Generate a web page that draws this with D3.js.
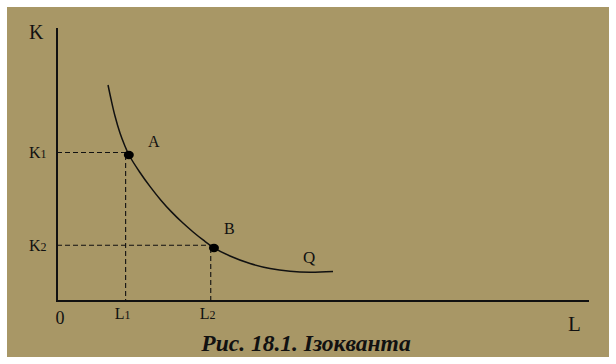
<!DOCTYPE html>
<html>
<head>
<meta charset="utf-8">
<script src="https://cdn.jsdelivr.net/npm/d3@7"></script>
<style>
  html, body { margin: 0; padding: 0; background: #ffffff; }
  svg { display: block; }
  text { font-family: "Liberation Serif", "Times New Roman", serif; fill: #111; }
</style>
</head>
<body>
<svg id="chart" width="616" height="364"></svg>
<script>
// Isoquant Q: labour L vs capital K
const curveL = [0.959, 1.015, 1.090, 1.184, 1.269, 1.353, 1.553, 1.754, 1.953, 2.152, 2.352, 2.553, 2.752, 2.951, 3.252, 3.628, 4.004, 4.380, 4.756, 5.188];
const curveK = [7.912, 7.399, 6.777, 6.154, 5.714, 5.348, 4.725, 4.179, 3.692, 3.264, 2.883, 2.538, 2.227, 1.949, 1.648, 1.374, 1.190, 1.088, 1.051, 1.081];
// Marked points
const pointNames = ["A", "B"];
const pointL = [1.35, 2.95];
const pointK = [5.35, 1.94];
// Guide (dashed) levels and tick labels
const guideL = [1.29, 2.89];
const guideK = [5.44, 2.04];
const tickLNames = ["L", "L"];
const tickLSubs = ["1", "2"];
const tickKNames = ["K", "K"];
const tickKSubs = ["1", "2"];
const axisNames = { x: "L", y: "K", origin: "0", curve: "Q" };
const caption = "Рис. 18.1. Ізокванта";

const svg = d3.select("#chart");
svg.append("rect").attr("x", 7).attr("y", 7).attr("width", 602).attr("height", 350).attr("fill", "#a89766");

const x = d3.scaleLinear().domain([0, 10]).range([57, 589]);
const y = d3.scaleLinear().domain([0, 10]).range([301, 28]);

// axes
svg.append("line").attr("x1", x(0)).attr("x2", x(0)).attr("y1", y(10)).attr("y2", y(0))
  .attr("stroke", "#111").attr("stroke-width", 2);
svg.append("line").attr("x1", x(0) - 1).attr("x2", x(10)).attr("y1", y(0)).attr("y2", y(0))
  .attr("stroke", "#111").attr("stroke-width", 2);

// dashed guides
guideK.forEach((k, i) => {
  svg.append("line").attr("x1", x(0)).attr("x2", x(pointL[i])).attr("y1", y(k)).attr("y2", y(k))
    .attr("stroke", "#111").attr("stroke-width", 1.1).attr("stroke-dasharray", "5,3");
});
guideL.forEach((l, i) => {
  svg.append("line").attr("x1", x(l)).attr("x2", x(l)).attr("y1", y(pointK[i])).attr("y2", y(0))
    .attr("stroke", "#111").attr("stroke-width", 1.1).attr("stroke-dasharray", "5,3");
});

// curve
const pts = curveL.map((l, i) => [l, curveK[i]]);
svg.append("path").datum(pts)
  .attr("d", d3.line().x(d => x(d[0])).y(d => y(d[1])).curve(d3.curveCatmullRom.alpha(0.5)))
  .attr("fill", "none").attr("stroke", "#111").attr("stroke-width", 1.5);

// points
pointL.forEach((l, i) => {
  svg.append("ellipse").attr("cx", x(l)).attr("cy", y(pointK[i])).attr("rx", 5).attr("ry", 4.2).attr("fill", "#000");
});

// point labels
const labelPos = [[148, 147], [224, 234]];
pointNames.forEach((n, i) => {
  svg.append("text").attr("x", labelPos[i][0]).attr("y", labelPos[i][1]).attr("font-size", 16).text(n);
});
svg.append("text").attr("x", 303).attr("y", 263).attr("font-size", 17).text(axisNames.curve);

// axis names
svg.append("text").attr("x", 29).attr("y", 39).attr("font-size", 20).text(axisNames.y);
svg.append("text").attr("x", 568).attr("y", 331).attr("font-size", 21).text(axisNames.x);
svg.append("text").attr("x", 60).attr("y", 324).attr("font-size", 18).attr("text-anchor", "middle").text(axisNames.origin);

// K ticks
guideK.forEach((k, i) => {
  const t = svg.append("text").attr("x", 29).attr("y", y(k) + 5.5).attr("font-size", 16);
  t.append("tspan").text(tickKNames[i]);
  t.append("tspan").attr("font-size", 12).text(tickKSubs[i]);
});
// L ticks
guideL.forEach((l, i) => {
  const t = svg.append("text").attr("x", x(l) - 11).attr("y", 319).attr("font-size", 16);
  t.append("tspan").text(tickLNames[i]);
  t.append("tspan").attr("font-size", 12).text(tickLSubs[i]);
});

// caption
svg.append("text").attr("x", 306).attr("y", 351).attr("text-anchor", "middle")
  .attr("font-size", 23.5).attr("font-weight", "bold").attr("font-style", "italic").text(caption);
</script>
</body>
</html>
